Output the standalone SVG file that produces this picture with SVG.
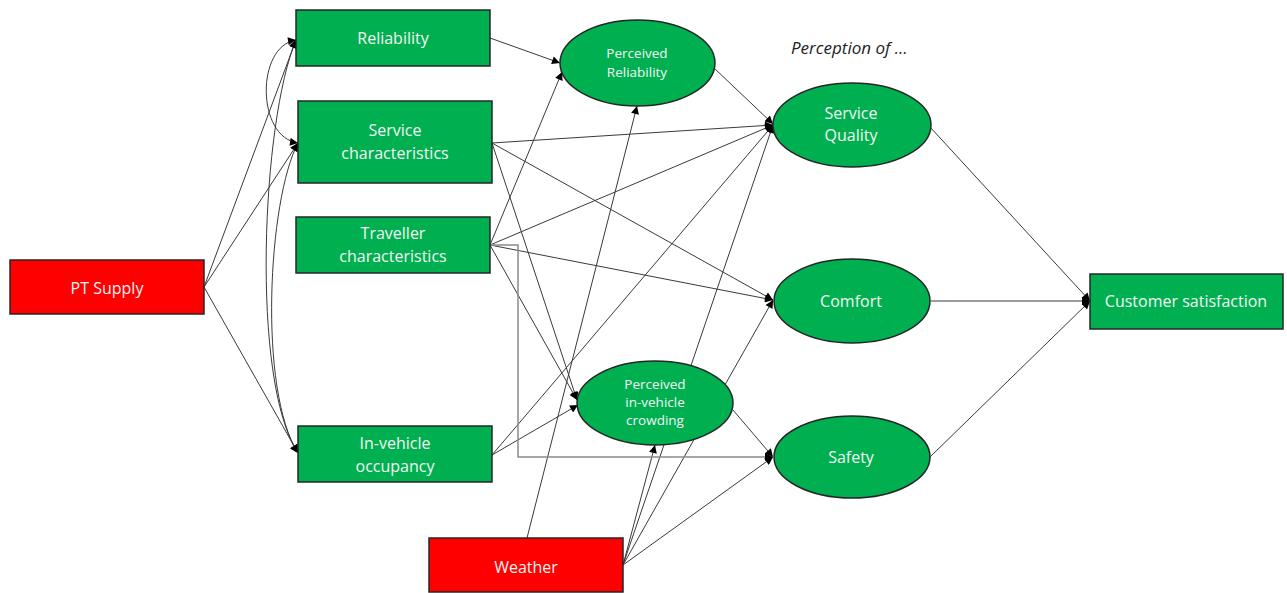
<svg xmlns="http://www.w3.org/2000/svg" width="1287" height="593" viewBox="0 0 1287 593">
<defs>
<marker id="ah" viewBox="0 0 10 10" refX="10" refY="5" markerWidth="9" markerHeight="8" markerUnits="userSpaceOnUse" orient="auto-start-reverse">
<path d="M0,0 L10,5 L0,10 z" fill="#000"/>
</marker>
<style>
.g{fill:#00b050;stroke:#262626;stroke-width:1.5}
.r{fill:#ff0000;stroke:#262626;stroke-width:1.5}
.t{font-family:"Open Sans","Liberation Sans",sans-serif;font-size:16px;fill:#f4f4f4;text-anchor:middle}
.s{font-size:13.5px}
.c line,.c path{stroke:#3a3a3a;stroke-width:1;fill:none;marker-end:url(#ah)}
.c .d{marker-start:url(#ah)}
.c .e{stroke:#8a8a8a;stroke-width:1.5}
.p{font-family:"Open Sans","Liberation Sans",sans-serif;font-size:17px;font-style:italic;fill:#222}
</style>
</defs>
<rect width="1287" height="593" fill="#fff"/>
<g id="connectors" class="c">
<line x1="204" y1="287" x2="296" y2="40"/>
<line x1="204" y1="287" x2="298" y2="143"/>
<line x1="204" y1="287" x2="298" y2="453"/>
<path class="d" d="M296,40 C256,46 256,137 298,143"/>
<path class="d" d="M296,40 C262,120 250,380 298,453"/>
<path class="d" d="M298,143 C268,200 258,390 298,453"/>
<line x1="490" y1="38" x2="560" y2="63"/>
<line x1="490" y1="245" x2="562" y2="72"/>
<line x1="527" y1="538" x2="637" y2="106"/>
<line x1="714" y1="68" x2="773" y2="124"/>
<line x1="492" y1="143" x2="773" y2="125"/>
<line x1="490" y1="245" x2="773" y2="125"/>
<line x1="492" y1="455" x2="773" y2="125"/>
<line x1="623" y1="565" x2="773" y2="125"/>
<line x1="492" y1="143" x2="773" y2="300"/>
<line x1="490" y1="245" x2="773" y2="300"/>
<line x1="623" y1="565" x2="773" y2="300"/>
<line x1="492" y1="143" x2="577" y2="400"/>
<line x1="490" y1="245" x2="577" y2="400"/>
<line x1="492" y1="455" x2="578" y2="405"/>
<line x1="623" y1="565" x2="655" y2="445"/>
<line x1="733" y1="410" x2="773" y2="457"/>
<path class="e" d="M490,245 H518 V457 H773"/>
<line x1="623" y1="565" x2="773" y2="457"/>
<line x1="930" y1="127" x2="1090" y2="301"/>
<line x1="931" y1="301" x2="1090" y2="301"/>
<line x1="930" y1="457" x2="1090" y2="301"/>
</g>
<g id="pt-supply"><rect class="r" x="10" y="260" width="194" height="54"/><text class="t" x="107" y="294">PT Supply</text></g>
<g id="reliability"><rect class="g" x="296" y="10" width="194" height="56"/><text class="t" x="393" y="44">Reliability</text></g>
<g id="service-characteristics"><rect class="g" x="298" y="101" width="194" height="82"/><text class="t" x="395" y="136">Service</text><text class="t" x="395" y="159">characteristics</text></g>
<g id="traveller-characteristics"><rect class="g" x="296" y="217" width="194" height="56"/><text class="t" x="393" y="239">Traveller</text><text class="t" x="393" y="262">characteristics</text></g>
<g id="in-vehicle-occupancy"><rect class="g" x="298" y="426" width="194" height="56"/><text class="t" x="395" y="449">In-vehicle</text><text class="t" x="395" y="472">occupancy</text></g>
<g id="weather"><rect class="r" x="429" y="538" width="194" height="54"/><text class="t" x="526" y="573">Weather</text></g>
<g id="perceived-reliability"><ellipse class="g" cx="637.5" cy="63" rx="77.5" ry="43"/><text class="t s" x="637" y="58">Perceived</text><text class="t s" x="637" y="77">Reliability</text></g>
<g id="perceived-crowding"><ellipse class="g" cx="655" cy="403" rx="78" ry="42"/><text class="t s" x="655" y="389">Perceived</text><text class="t s" x="655" y="407">in-vehicle</text><text class="t s" x="655" y="425">crowding</text></g>
<text class="p" x="791" y="54">Perception of …</text>
<g id="service-quality"><ellipse class="g" cx="852" cy="125" rx="79" ry="42"/><text class="t" x="851" y="119">Service</text><text class="t" x="851" y="141">Quality</text></g>
<g id="comfort"><ellipse class="g" cx="852" cy="301" rx="78" ry="42"/><text class="t" x="851" y="307">Comfort</text></g>
<g id="safety"><ellipse class="g" cx="852" cy="457" rx="78" ry="41"/><text class="t" x="851" y="463">Safety</text></g>
<g id="customer-satisfaction"><rect class="g" x="1090" y="274" width="193" height="55"/><text class="t" x="1186" y="307">Customer satisfaction</text></g>
</svg>
